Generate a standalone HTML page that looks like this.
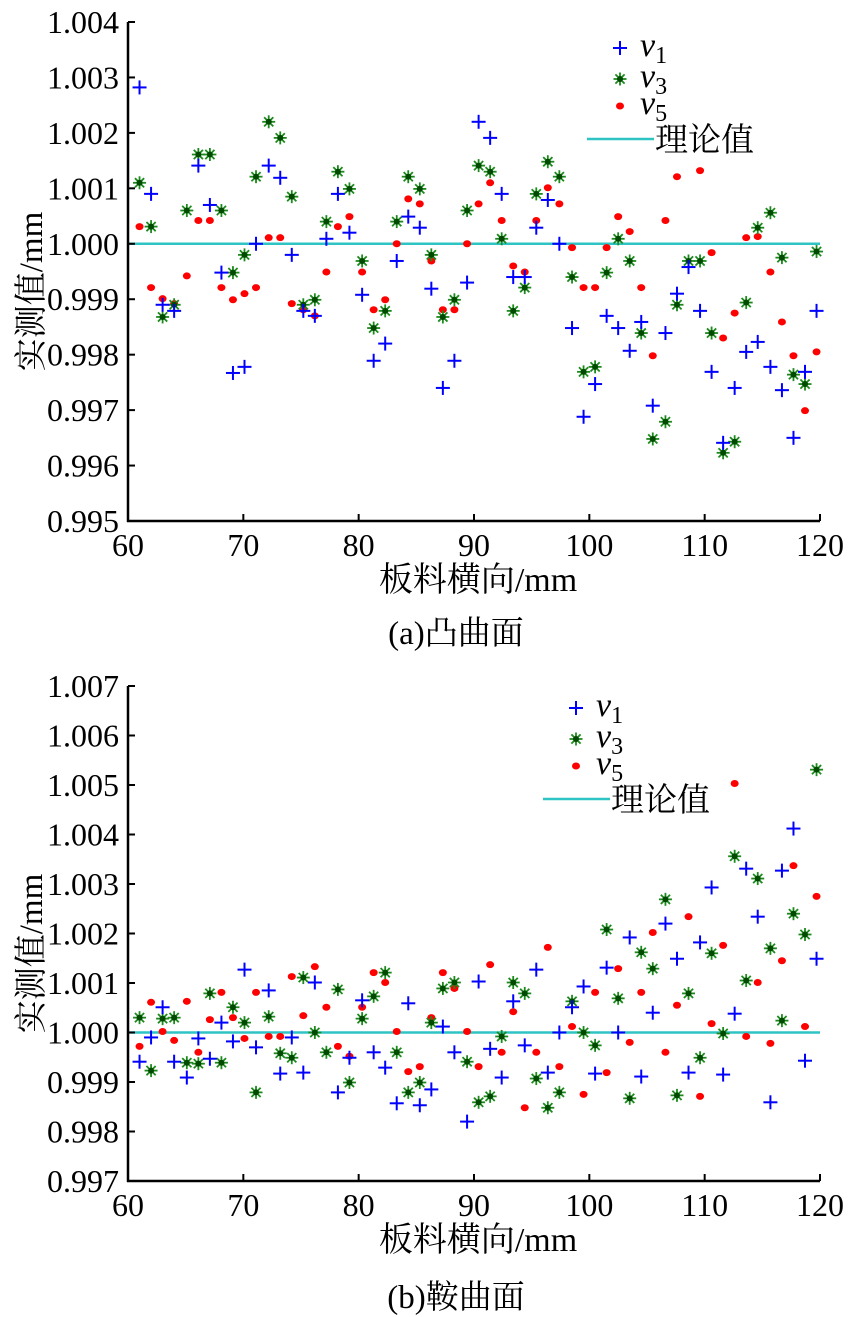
<!DOCTYPE html>
<html><head><meta charset="utf-8"><style>
html,body{margin:0;padding:0;background:#fff;}
svg{display:block;}
</style></head><body>
<svg id="fig" width="850" height="1317" viewBox="0 0 850 1317" xmlns="http://www.w3.org/2000/svg"></svg>
<script>
// shared x positions (板料横向, mm)
const xs = [61.0,62.0,63.0,64.0,65.1,66.1,67.1,68.1,69.1,70.1,71.1,72.2,73.2,74.2,75.2,76.2,77.2,78.2,79.2,80.3,81.3,82.3,83.3,84.3,85.3,86.3,87.3,88.3,89.4,90.4,91.4,92.4,93.4,94.4,95.4,96.4,97.4,98.5,99.5,100.5,101.5,102.5,103.5,104.5,105.5,106.6,107.6,108.6,109.6,110.6,111.6,112.6,113.6,114.6,115.7,116.7,117.7,118.7,119.7];
const xTicks = [60,70,80,90,100,110,120];
// chart (a): deviation from 1 mm in µm
const aV1 = [2.82,0.90,-1.10,-1.21,null,1.41,0.70,-0.52,-2.33,-2.22,0.0,1.41,1.19,-0.20,-1.21,-1.30,0.09,0.90,0.20,-0.92,-2.11,-1.80,-0.31,0.49,0.29,-0.81,-2.60,-2.11,-0.70,2.20,1.91,0.90,-0.60,-0.60,0.29,0.79,0.0,-1.52,-3.12,-2.53,-1.30,-1.52,-1.93,-1.41,-2.92,-1.61,-0.90,-0.42,-1.21,-2.31,-3.59,-2.60,-1.95,-1.77,-2.22,-2.64,-3.50,-2.31,-1.21];
const aV3 = [1.10,0.31,-1.32,-1.10,0.60,1.61,1.61,0.60,-0.52,-0.20,1.21,2.20,1.91,0.85,-1.10,-1.01,0.40,1.30,0.99,-0.31,-1.52,-1.21,0.40,1.21,0.99,-0.20,-1.32,-1.01,0.60,1.41,1.30,0.09,-1.21,-0.79,0.90,1.48,1.21,-0.60,-2.31,-2.22,-0.52,0.09,-0.31,-1.61,-3.52,-3.21,-1.10,-0.31,-0.31,-1.61,-3.77,-3.57,-1.06,0.29,0.56,-0.25,-2.36,-2.53,-0.14];
const aV5 = [0.31,-0.79,-0.99,-1.08,-0.58,0.42,0.42,-0.79,-1.01,-0.90,-0.79,0.11,0.11,-1.08,-1.19,-1.30,-0.51,0.31,0.49,-0.51,-1.19,-1.01,0.0,0.81,0.72,-0.31,-1.19,-1.19,0.0,0.72,1.10,0.42,-0.40,-0.51,0.42,1.01,0.72,-0.07,-0.79,-0.79,-0.07,0.49,0.22,-0.79,-2.02,0.42,1.21,null,1.32,-0.16,-1.70,-1.25,0.11,0.13,-0.51,-1.41,-2.02,-3.01,-1.95];
const aYTicks = ["0.995","0.996","0.997","0.998","0.999","1.000","1.001","1.002","1.003","1.004"];
// chart (b)
const bV1 = [-0.59,-0.10,0.51,-0.59,-0.91,-0.12,-0.53,0.20,-0.18,1.27,-0.30,0.85,-0.83,-0.10,-0.81,1.01,null,-1.21,-0.51,0.65,-0.40,-0.71,-1.43,0.59,-1.47,-1.15,0.12,-0.40,-1.80,1.03,-0.33,-0.91,0.63,-0.26,1.27,-0.81,0.0,0.51,0.93,-0.83,1.31,0.0,1.92,-0.89,0.40,2.20,1.49,-0.81,1.82,2.93,-0.85,0.38,3.31,2.34,-1.41,3.27,4.12,-0.57,1.49];
const bV3 = [0.30,-0.77,0.28,0.30,-0.61,-0.63,0.79,-0.61,0.51,0.20,-1.21,0.32,-0.42,-0.51,1.11,0.0,-0.40,0.87,-1.01,0.28,0.73,1.21,-0.40,-1.21,-1.01,0.20,0.89,1.01,-0.59,-1.41,-1.29,-0.08,1.01,0.79,-0.93,-1.52,-1.21,0.63,0.0,-0.26,2.08,0.69,-1.33,1.62,1.29,2.69,-1.27,0.79,-0.51,1.60,-0.02,3.56,1.05,3.11,1.70,0.24,2.40,1.98,5.31];
const bV5 = [-0.28,0.61,0.02,-0.16,0.63,-0.40,0.26,0.81,0.30,-0.12,0.81,-0.08,-0.08,1.13,0.34,1.33,0.51,-0.28,-0.48,0.51,1.21,1.01,0.02,-0.79,-0.69,0.30,1.21,0.89,0.02,-0.69,1.37,-0.40,0.42,-1.52,-0.40,1.72,-0.69,0.12,-1.25,0.81,-0.81,1.29,-0.20,0.81,2.02,-0.40,0.55,2.34,-1.29,0.18,1.76,5.03,-0.08,1.01,-0.22,1.45,3.37,0.12,2.75];
const bYTicks = ["0.997","0.998","0.999","1.000","1.001","1.002","1.003","1.004","1.005","1.006","1.007"];

const NS = "http://www.w3.org/2000/svg";
const svg = document.getElementById('fig');
function el(tag, attrs, parent){
  const e = document.createElementNS(NS, tag);
  for (const k in attrs) e.setAttribute(k, attrs[k]);
  (parent||svg).appendChild(e);
  return e;
}
const SERIF = '"Liberation Serif","Noto Serif CJK SC",serif';

function plus(g, cx, cy){
  const m = el('g', {}, g);
  
  
  el('line',{x1:cx-7,y1:cy,x2:cx+7,y2:cy,stroke:'#0000ff','stroke-width':2},m);
  el('line',{x1:cx,y1:cy-7,x2:cx,y2:cy+7,stroke:'#0000ff','stroke-width':2},m);
}
function star(g, cx, cy){
  const m = el('g', {}, g);
  
  
  const r=6.5, d=4.6;
  el('line',{x1:cx-r,y1:cy,x2:cx+r,y2:cy,stroke:'#1d8a1d','stroke-width':1.8},m);
  el('line',{x1:cx,y1:cy-r,x2:cx,y2:cy+r,stroke:'#1d8a1d','stroke-width':1.8},m);
  el('line',{x1:cx-d,y1:cy-d,x2:cx+d,y2:cy+d,stroke:'#1d8a1d','stroke-width':1.8},m);
  el('line',{x1:cx-d,y1:cy+d,x2:cx+d,y2:cy-d,stroke:'#1d8a1d','stroke-width':1.8},m);
  el('circle',{cx:cx,cy:cy,r:3,fill:'#004a00'},m);
}
function dot(g, cx, cy){
  const m = el('ellipse',{cx:cx,cy:cy,rx:4,ry:3.5,fill:'#ff0000'},g);
  
  
}

function chart(cfg){
  const g = el('g',{});
  
  
  const L=128, R=820, T=cfg.top, B=cfg.bottom;
  const X = v => L + (v-60)/60*(R-L);
  const ymin=cfg.ymin, ymax=cfg.ymax;
  const Y = um => B - ((1+um/1000) - ymin)/(ymax-ymin)*(B-T);
  const tl = el('line',{x1:L,y1:Y(0),x2:R,y2:Y(0),stroke:'#2ec4c4','stroke-width':2.5},g);
  
  
  xs.forEach((x,i)=>{ if(cfg.v5[i]!==null) dot(g, X(x), Y(cfg.v5[i])); });
  xs.forEach((x,i)=>{ if(cfg.v3[i]!==null) star(g, X(x), Y(cfg.v3[i])); });
  xs.forEach((x,i)=>{ if(cfg.v1[i]!==null) plus(g, X(x), Y(cfg.v1[i])); });
  const ya = el('line',{x1:L,y1:T,x2:L,y2:B+1,stroke:'#000','stroke-width':2.5},g);
  
  
  const xa = el('line',{x1:L-1,y1:B,x2:R,y2:B,stroke:'#000','stroke-width':2.5},g);
  
  
  cfg.yTicks.forEach(t=>{
    const py = B - (parseFloat(t)-ymin)/(ymax-ymin)*(B-T);
    el('line',{x1:L,y1:py,x2:L+7,y2:py,stroke:'#000','stroke-width':2},g);
    const tx = el('text',{x:L-9,y:py+11,'text-anchor':'end','font-size':32,'font-family':SERIF,fill:'#000'},g);
    tx.textContent = t;
    
    
  });
  xTicks.forEach(t=>{
    const px = X(t);
    el('line',{x1:px,y1:B,x2:px,y2:B-7,stroke:'#000','stroke-width':2},g);
    const tx = el('text',{x:px,y:B+35,'text-anchor':'middle','font-size':32,'font-family':SERIF,fill:'#000'},g);
    tx.textContent = t;
    
    
  });
  const xt = el('text',{x:478,y:B+70,'text-anchor':'middle','font-size':34,'font-family':SERIF,fill:'#000'},g);
  xt.textContent = '板料横向/mm';
  
  
  const yc = (T+B)/2+20;
  const yt = el('text',{x:0,y:0,'text-anchor':'middle','font-size':33,'font-family':SERIF,fill:'#000',transform:`translate(42,${yc}) rotate(-90)`},g);
  yt.textContent = '实测值/mm';
  
  
  const cap = el('text',{x:456,y:cfg.capY,'text-anchor':'middle','font-size':33,'font-family':SERIF,fill:'#000'},g);
  cap.textContent = cfg.caption;
  
  
  const lg = el('g',{},g);
  
  
  const lx = cfg.legX, ly = cfg.legY;
  plus(lg, lx, ly);
  star(lg, lx, ly+31);
  dot(lg, lx, ly+58);
  const labs = ['1','3','5'];
  labs.forEach((s,i)=>{
    const t = el('text',{x:lx+20,y:ly+8+[0,31,58][i],'font-size':34,'font-family':SERIF,fill:'#000'},lg);
    const a = el('tspan',{'font-style':'italic'},t); a.textContent='v';
    const b = el('tspan',{'font-size':24,dy:7},t); b.textContent=s;
    
    
  });
  el('line',{x1:lx-33,y1:ly+91,x2:lx+34,y2:ly+91,stroke:'#2ec4c4','stroke-width':2.5},lg);
  const tt = el('text',{x:lx+35,y:ly+103,'font-size':33,'font-family':SERIF,fill:'#000'},lg);
  tt.textContent='理论值';
  
  
}

chart({name:'chart-a-convex', top:22, bottom:521, ymin:0.995, ymax:1.004, yTicks:aYTicks,
  v1:aV1, v3:aV3, v5:aV5, caption:'(a)凸曲面', capY:644, legX:620, legY:48});
chart({name:'chart-b-saddle', top:686, bottom:1181, ymin:0.997, ymax:1.007, yTicks:bYTicks,
  v1:bV1, v3:bV3, v5:bV5, caption:'(b)鞍曲面', capY:1308, legX:576, legY:708});
</script>
</body></html>
